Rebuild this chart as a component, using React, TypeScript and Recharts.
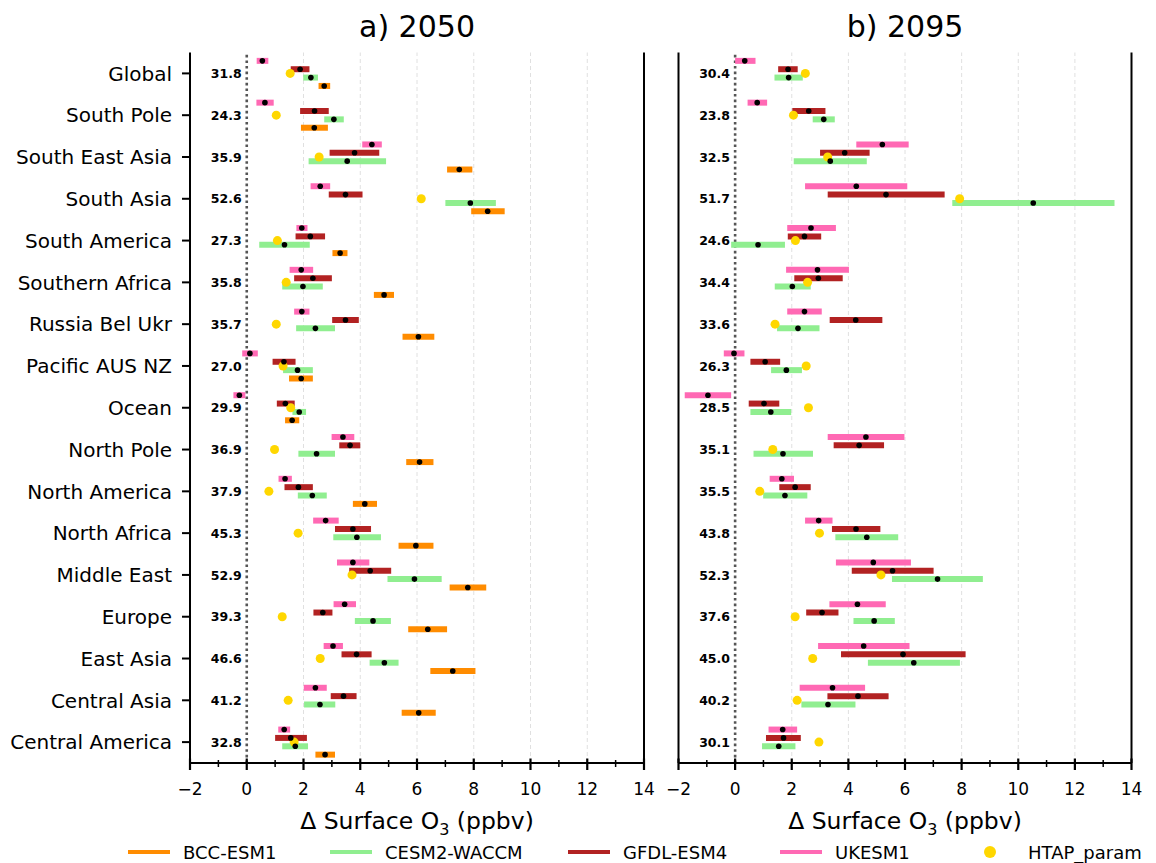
import React from 'react';
import { ScatterChart, Scatter, XAxis, YAxis, ErrorBar, ReferenceLine } from 'recharts';

const regions = [
  'Global', 'South Pole', 'South East Asia', 'South Asia', 'South America',
  'Southern Africa', 'Russia Bel Ukr', 'Pacific AUS NZ', 'Ocean', 'North Pole',
  'North America', 'North Africa', 'Middle East', 'Europe', 'East Asia',
  'Central Asia', 'Central America',
];

const xTicks = [-2, -1, 0, 1, 2, 3, 4, 5, 6, 7, 8, 9, 10, 11, 12, 13, 14];
const gridValues = [2, 4, 6, 8, 10, 12];
const rowTicks = regions.map((_, i) => i);

// [low, mean, high] per region
const ukesm2050 = [
  [0.35, 0.55, 0.76], [0.34, 0.64, 0.95], [4.07, 4.41, 4.76], [2.25, 2.59, 2.94],
  [1.75, 1.94, 2.14], [1.51, 1.92, 2.34], [1.67, 1.94, 2.21], [-0.16, 0.11, 0.39],
  [-0.47, -0.26, -0.05], [2.99, 3.39, 3.79], [1.12, 1.35, 1.59], [2.34, 2.78, 3.24],
  [3.18, 3.74, 4.32], [3.06, 3.45, 3.85], [2.71, 3.04, 3.39], [2.01, 2.42, 2.82],
  [1.11, 1.32, 1.53],
];
const gfdl2050 = [
  [1.55, 1.88, 2.21], [1.88, 2.39, 2.89], [2.92, 3.8, 4.67], [2.89, 3.48, 4.08],
  [1.72, 2.24, 2.76], [1.67, 2.33, 3.0], [3.01, 3.48, 3.95], [0.91, 1.31, 1.72],
  [1.06, 1.36, 1.69], [3.26, 3.64, 4.0], [1.33, 1.82, 2.33], [3.11, 3.74, 4.38],
  [3.61, 4.35, 5.09], [2.35, 2.68, 3.02], [3.34, 3.87, 4.4], [2.96, 3.41, 3.87],
  [1.0, 1.55, 2.12],
];
const cesm2050 = [
  [1.99, 2.26, 2.51], [2.73, 3.07, 3.42], [2.18, 3.54, 4.91], [7.0, 7.88, 8.78],
  [0.44, 1.33, 2.22], [1.25, 1.98, 2.68], [1.74, 2.42, 3.11], [1.28, 1.79, 2.33],
  [1.61, 1.85, 2.09], [1.82, 2.46, 3.11], [1.8, 2.31, 2.82], [3.05, 3.88, 4.73],
  [4.96, 5.91, 6.87], [3.81, 4.45, 5.08], [4.33, 4.85, 5.35], [2.02, 2.58, 3.12],
  [1.25, 1.71, 2.16],
];
const bcc2050 = [
  [2.53, 2.73, 2.94], [1.91, 2.38, 2.86], [7.06, 7.49, 7.95], [7.91, 8.49, 9.09],
  [3.02, 3.29, 3.55], [4.48, 4.84, 5.19], [5.49, 6.05, 6.61], [1.49, 1.92, 2.33],
  [1.35, 1.6, 1.85], [5.62, 6.09, 6.58], [3.74, 4.16, 4.59], [5.35, 5.96, 6.58],
  [7.15, 7.79, 8.44], [5.69, 6.38, 7.06], [6.47, 7.26, 8.06], [5.46, 6.06, 6.66],
  [2.42, 2.76, 3.11],
];
const htap2050 = [1.53, 1.04, 2.55, 6.15, 1.08, 1.39, 1.04, 1.28, 1.55, 0.98, 0.78, 1.81, 3.71, 1.25, 2.59, 1.46, 1.67];
const base2050 = ['31.8', '24.3', '35.9', '52.6', '27.3', '35.8', '35.7', '27.0', '29.9', '36.9', '37.9', '45.3', '52.9', '39.3', '46.6', '41.2', '32.8'];

const ukesm2095 = [
  [0.0, 0.34, 0.72], [0.44, 0.78, 1.13], [4.28, 5.2, 6.13], [2.47, 4.28, 6.08],
  [1.84, 2.68, 3.56], [1.8, 2.91, 4.02], [1.84, 2.45, 3.06], [-0.4, -0.04, 0.33],
  [-1.78, -0.96, -0.14], [3.27, 4.62, 5.98], [1.22, 1.65, 2.08], [2.47, 2.95, 3.44],
  [3.56, 4.88, 6.21], [3.33, 4.32, 5.32], [2.93, 4.54, 6.16], [2.28, 3.44, 4.59],
  [1.18, 1.68, 2.19],
];
const gfdl2095 = [
  [1.52, 1.87, 2.21], [2.02, 2.6, 3.19], [3.0, 3.87, 4.75], [3.27, 5.33, 7.4],
  [1.86, 2.45, 3.04], [2.09, 2.94, 3.8], [3.34, 4.26, 5.2], [0.54, 1.06, 1.59],
  [0.48, 1.02, 1.56], [3.48, 4.38, 5.26], [1.56, 2.12, 2.67], [3.42, 4.27, 5.13],
  [4.12, 5.56, 7.01], [2.51, 3.07, 3.65], [3.74, 5.93, 8.14], [3.26, 4.34, 5.42],
  [1.09, 1.71, 2.32],
];
const cesm2095 = [
  [1.39, 1.89, 2.39], [2.74, 3.13, 3.52], [2.07, 3.36, 4.65], [7.67, 10.53, 13.4],
  [-0.14, 0.81, 1.76], [1.4, 2.02, 2.67], [1.48, 2.22, 2.98], [1.27, 1.81, 2.36],
  [0.54, 1.26, 1.98], [0.65, 1.69, 2.75], [0.99, 1.76, 2.55], [3.54, 4.65, 5.76],
  [5.54, 7.15, 8.75], [4.18, 4.91, 5.64], [4.69, 6.31, 7.94], [2.34, 3.28, 4.25],
  [0.95, 1.54, 2.13],
];
const htap2095 = [2.48, 2.06, 3.27, 7.93, 2.13, 2.56, 1.41, 2.51, 2.59, 1.33, 0.87, 2.98, 5.15, 2.12, 2.74, 2.19, 2.96];
const base2095 = ['30.4', '23.8', '32.5', '51.7', '24.6', '34.4', '33.6', '26.3', '28.5', '35.1', '35.5', '43.8', '52.3', '37.6', '45.0', '40.2', '30.1'];

const COLORS = {
  bcc: '#ff8c00',
  cesm: '#90ee90',
  gfdl: '#b22222',
  ukesm: '#ff69b4',
  htap: '#ffd700',
};

const FONT = 'DejaVu Sans';
const spine = { stroke: '#000', strokeWidth: 2 };

const fmt = (v: number) => (v < 0 ? '\u2212' + Math.abs(v) : String(v));

// offsets of each model row inside a region band
const toBars = (arr: number[][], offset: number) =>
  arr.map(([lo, m, hi], i) => ({ x: m, y: i + offset, err: [m - lo, hi - m] }));

const BottomTick = (props: any) => {
  const { x, y, payload } = props;
  const major = payload.value % 2 === 0;
  return (
    <g>
      <line x1={x} x2={x} y1={y - (major ? 4.5 : 3)} y2={y + (major ? 7 : 4)} stroke="#000" strokeWidth={major ? 2.2 : 1.5} />
      {major && (
        <text x={x} y={y + 32} textAnchor="middle" fontSize={17} fontFamily={FONT} fill="#000">
          {fmt(payload.value)}
        </text>
      )}
    </g>
  );
};

const TopTick = (props: any) => {
  const { x, y, payload } = props;
  const major = payload.value % 2 === 0;
  return <line x1={x} x2={x} y1={y - (major ? 7 : 4)} y2={y + (major ? 5 : 3)} stroke="#000" strokeWidth={major ? 2.2 : 1.5} />;
};

const RegionTick = (props: any) => {
  const { x, y, payload } = props;
  return (
    <g>
      <line x1={x - 8} x2={x} y1={y} y2={y} stroke="#000" strokeWidth={2} />
      <text x={x - 18} y={y} dy={7.3} textAnchor="end" fontSize={20} fontFamily={FONT} fill="#000">
        {regions[payload.value]}
      </text>
    </g>
  );
};

const Empty = () => <g />;
const MeanDot = (p: any) => <circle cx={p.cx} cy={p.cy} r={2.8} fill="#000" />;
const HtapDot = (p: any) => <circle cx={p.cx} cy={p.cy} r={4.5} fill={COLORS.htap} />;
const BaseLabel = (p: any) => (
  <text x={p.cx} y={p.cy} dy={4.6} textAnchor="end" fontSize={12.5} fontWeight="bold" fontFamily={FONT} fill="#000">
    {p.payload.label}
  </text>
);

type Series = { data: number[][]; color: string; offset: number };

function Panel({ left, width, margin, series, htap, base, showRegions }: any) {
  const bars = (series as Series[]).map((s) => ({ color: s.color, pts: toBars(s.data, s.offset) }));
  const means = bars.flatMap((b) => b.pts.map((p) => ({ x: p.x, y: p.y })));
  const htapPts = (htap as number[]).map((v, i) => ({ x: v, y: i }));
  const basePts = (base as string[]).map((s, i) => ({ x: -0.18, y: i, label: s }));

  return (
    <div style={{ position: 'absolute', left, top: 0 }}>
      <ScatterChart width={width} height={800} margin={margin}>
        <XAxis
          type="number"
          dataKey="x"
          domain={[-2, 14]}
          allowDataOverflow
          ticks={xTicks}
          interval={0}
          tickSize={0}
          tickMargin={0}
          tickLine={false}
          axisLine={spine}
          tick={<BottomTick />}
          height={37}
        />
        <XAxis
          xAxisId="top"
          orientation="top"
          type="number"
          domain={[-2, 14]}
          allowDataOverflow
          ticks={xTicks}
          interval={0}
          tickSize={0}
          tickMargin={0}
          tickLine={false}
          axisLine={spine}
          tick={<TopTick />}
          height={0}
        />
        <YAxis
          type="number"
          dataKey="y"
          domain={[-0.5, 16.5]}
          allowDataOverflow
          reversed
          ticks={rowTicks}
          interval={0}
          tickSize={0}
          tickMargin={0}
          tickLine={false}
          axisLine={spine}
          tick={<RegionTick />}
          width={190}
          hide={!showRegions}
        />
        {gridValues.map((g) => (
          <ReferenceLine key={g} x={g} stroke="#e0e0e0" strokeWidth={1} strokeDasharray="4 3" />
        ))}
        <ReferenceLine x={0} stroke="#555" strokeWidth={2.6} strokeDasharray="2.6 3" />
        {!showRegions && <ReferenceLine x={-2} stroke="#000" strokeWidth={2} />}
        <ReferenceLine x={14} stroke="#000" strokeWidth={2} />
        {bars.map((b, k) => (
          <Scatter key={k} data={b.pts} shape={<Empty />} isAnimationActive={false}>
            <ErrorBar dataKey="err" direction="x" width={0} stroke={b.color} strokeWidth={6} isAnimationActive={false} />
          </Scatter>
        ))}
        <Scatter data={htapPts} shape={<HtapDot />} isAnimationActive={false} />
        <Scatter data={means} shape={<MeanDot />} isAnimationActive={false} />
        <Scatter data={basePts} shape={<BaseLabel />} isAnimationActive={false} />
      </ScatterChart>
    </div>
  );
}

const legendItems = [
  { label: 'BCC-ESM1', color: COLORS.bcc, x: 128, kind: 'line' },
  { label: 'CESM2-WACCM', color: COLORS.cesm, x: 330, kind: 'line' },
  { label: 'GFDL-ESM4', color: COLORS.gfdl, x: 568, kind: 'line' },
  { label: 'UKESM1', color: COLORS.ukesm, x: 780, kind: 'line' },
  { label: 'HTAP_param', color: COLORS.htap, x: 970, kind: 'dot' },
];

const AxisTitle = ({ cx }: { cx: number }) => (
  <text x={cx} y={829} textAnchor="middle" fontSize={23.5} fontFamily={FONT} fill="#000">
    Δ Surface O<tspan dy={5.5} fontSize={16}>3</tspan>
    <tspan dy={-5.5}> (ppbv)</tspan>
  </text>
);

export default function App() {
  return (
    <div style={{ position: 'absolute', left: 0, top: 0, width: 1156, height: 863, background: '#fff', overflow: 'hidden' }}>
      <Panel
        left={0}
        width={660}
        margin={{ top: 52.5, right: 16, bottom: 0, left: 0 }}
        series={[
          { data: ukesm2050, color: COLORS.ukesm, offset: -0.3 },
          { data: gfdl2050, color: COLORS.gfdl, offset: -0.1 },
          { data: cesm2050, color: COLORS.cesm, offset: 0.1 },
          { data: bcc2050, color: COLORS.bcc, offset: 0.3 },
        ]}
        htap={htap2050}
        base={base2050}
        showRegions
      />
      <Panel
        left={660}
        width={496}
        margin={{ top: 52.5, right: 24.5, bottom: 0, left: 18.5 }}
        series={[
          { data: ukesm2095, color: COLORS.ukesm, offset: -0.3 },
          { data: gfdl2095, color: COLORS.gfdl, offset: -0.1 },
          { data: cesm2095, color: COLORS.cesm, offset: 0.1 },
        ]}
        htap={htap2095}
        base={base2095}
        showRegions={false}
      />
      <svg width={1156} height={863} style={{ position: 'absolute', left: 0, top: 0, pointerEvents: 'none' }}>
        <text x={417} y={37} textAnchor="middle" fontSize={30} fontFamily={FONT} fill="#000">a) 2050</text>
        <text x={905} y={37} textAnchor="middle" fontSize={30} fontFamily={FONT} fill="#000">b) 2095</text>
        <AxisTitle cx={417} />
        <AxisTitle cx={905} />
        {legendItems.map((it) => (
          <g key={it.label}>
            {it.kind === 'line' ? (
              <line x1={it.x} x2={it.x + 42} y1={852} y2={852} stroke={it.color} strokeWidth={4} />
            ) : (
              <circle cx={it.x + 20} cy={852} r={6} fill={it.color} />
            )}
            <text x={it.kind === 'line' ? it.x + 55 : it.x + 58} y={858.5} fontSize={18} fontFamily={FONT} fill="#000">
              {it.label}
            </text>
          </g>
        ))}
      </svg>
    </div>
  );
}
